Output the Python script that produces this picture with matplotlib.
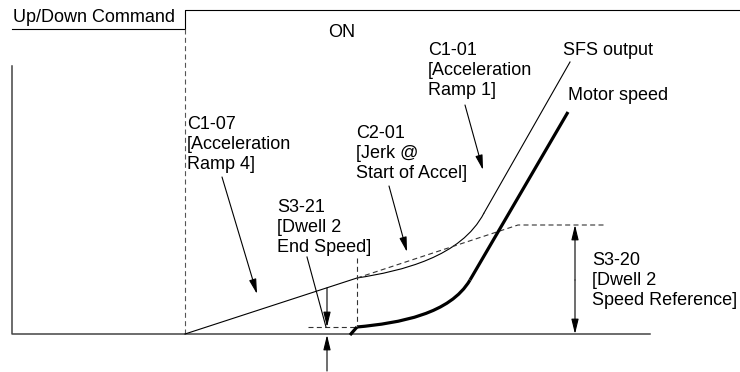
import matplotlib
matplotlib.use("Agg")
import matplotlib.pyplot as plt
from matplotlib.path import Path
from matplotlib.patches import PathPatch

plt.rcParams['font.family'] = ['Liberation Sans', 'DejaVu Sans']

# ---- diagram geometry (pixel-like units, y grows downward) ----
cmd_x = [12, 185, 185, 740]
cmd_y = [29, 29, 10, 10]

axis_x = [12, 12, 650]
axis_y = [66, 334, 334]

start_dash_x = [185, 185]
start_dash_y = [29, 334]

ramp4_x = [185, 357]
ramp4_y = [334, 278]

ref_dash_x = [357, 518, 605]
ref_dash_y = [278, 225, 225]

dwell_v_x = [357, 357]
dwell_v_y = [258, 327]
dwell_h_x = [308, 357]
dwell_h_y = [327, 327]

# SFS output: cubic Bezier control points then straight ramp
sfs_ctrl_x = [357, 402, 461, 484]
sfs_ctrl_y = [278, 271, 257, 213]
sfs_line_x = [484, 570]
sfs_line_y = [213, 62]

# Motor speed: short rise, Bezier, straight ramp
motor_rise_x = [350, 357]
motor_rise_y = [335, 327]
motor_ctrl_x = [357, 400, 450, 470]
motor_ctrl_y = [327, 323, 314, 280]
motor_line_x = [470, 568]
motor_line_y = [280, 112]

# pointer arrows: (start x, start y, tip x, tip y)
arrows = [
    (222, 177, 257, 294),   # C1-07
    (389, 186, 407, 252),   # C2-01
    (465, 105, 483, 170),   # C1-01
]
s321_ptr_x = [307, 326]
s321_ptr_y = [257, 327]
s321_dim = [(327, 288, 327, 327), (327, 371, 327, 335)]
s320_dim = [(575, 280, 575, 225), (575, 280, 575, 334)]

labels = [
    (13, 22, "Up/Down Command"),
    (328, 37, "ON"),
    (187, 129, "C1-07"), (187, 149, "[Acceleration"), (187, 169, "Ramp 4]"),
    (356, 138, "C2-01"), (356, 158, "[Jerk @"), (356, 178, "Start of Accel]"),
    (428, 55, "C1-01"), (428, 75, "[Acceleration"), (428, 95, "Ramp 1]"),
    (563, 55, "SFS output"),
    (568, 100, "Motor speed"),
    (277, 212, "S3-21"), (277, 232, "[Dwell 2"), (277, 252, "End Speed]"),
    (592, 265, "S3-20"), (592, 285, "[Dwell 2"), (592, 305, "Speed Reference]"),
]

fig = plt.figure(figsize=(7.4, 3.72), dpi=100)
ax = fig.add_axes([0, 0, 1, 1])
ax.set_xlim(0, 740)
ax.set_ylim(372, 0)
ax.axis('off')

thin = 0.8
ax.plot(cmd_x, cmd_y, color='black', lw=thin)
ax.plot(axis_x, axis_y, color='#444444', lw=1.1)
ax.plot(start_dash_x, start_dash_y, color='#555555', lw=thin, dashes=(4.5, 3))
ax.plot(ramp4_x, ramp4_y, color='black', lw=thin)
ax.plot(ref_dash_x, ref_dash_y, color='#333333', lw=thin, dashes=(4.5, 3))
ax.plot(dwell_v_x, dwell_v_y, color='#333333', lw=thin, dashes=(4.5, 3))
ax.plot(dwell_h_x, dwell_h_y, color='#333333', lw=thin, dashes=(4.5, 3))


def bezier(xs, ys, lw):
    verts = list(zip(xs, ys))
    codes = [Path.MOVETO, Path.CURVE4, Path.CURVE4, Path.CURVE4]
    ax.add_patch(PathPatch(Path(verts, codes), fill=False, edgecolor='black',
                           lw=lw, capstyle='butt'))


bezier(sfs_ctrl_x, sfs_ctrl_y, thin)
ax.plot(sfs_line_x, sfs_line_y, color='black', lw=thin)

thick = 2.3
ax.plot(motor_rise_x, motor_rise_y, color='black', lw=thick, solid_capstyle='butt')
bezier(motor_ctrl_x, motor_ctrl_y, thick)
ax.plot(motor_line_x, motor_line_y, color='black', lw=thick, solid_capstyle='butt')

aprops = dict(arrowstyle='-|>,head_length=0.9,head_width=0.22', color='black',
              lw=thin, shrinkA=0, shrinkB=0, mutation_scale=10)
for (x0, y0, x1, y1) in arrows + s321_dim + s320_dim:
    ax.annotate('', xy=(x1, y1), xytext=(x0, y0), arrowprops=aprops)
ax.plot(s321_ptr_x, s321_ptr_y, color='black', lw=thin)

for (x, y, s) in labels:
    ax.text(x, y, s, fontsize=13, ha='left', va='baseline', color='black')

fig.savefig('out.png', dpi=100)
